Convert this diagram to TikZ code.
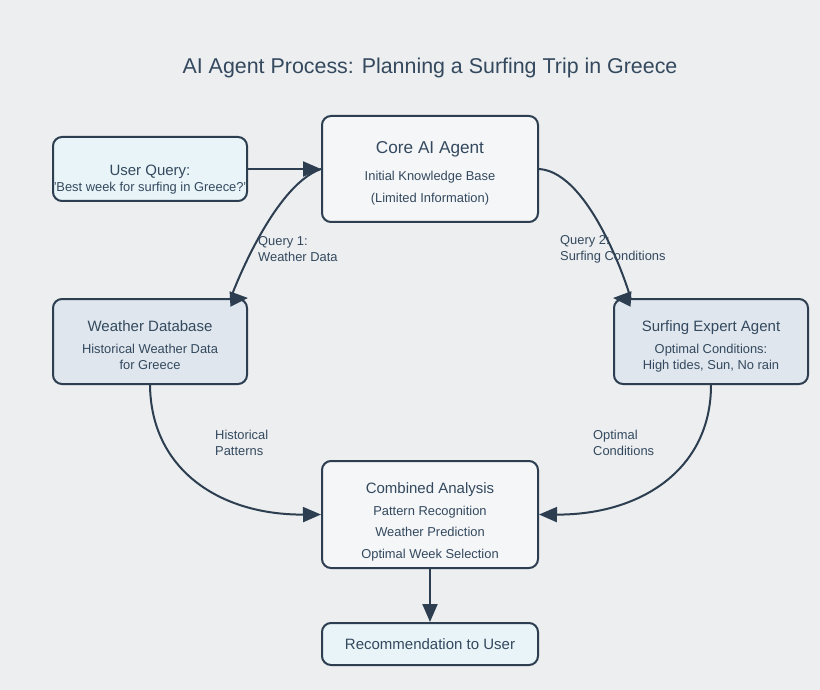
\documentclass[tikz,border=0pt]{standalone}
\usepackage{fontspec}
\setmainfont{Liberation Sans}
\usetikzlibrary{arrows.meta}
\definecolor{bg}{HTML}{ECEEF0}
\definecolor{stroke}{HTML}{2C3E50}
\definecolor{txt}{HTML}{34495E}
\definecolor{fillblue}{HTML}{E8F4F8}
\definecolor{filllight}{HTML}{F4F6F8}
\definecolor{fillgrey}{HTML}{DFE6ED}
\begin{document}
\begin{tikzpicture}[x=1pt,y=-1pt,
  box/.style={draw=stroke,line width=2pt,rounded corners=9pt,inner sep=0pt},
  wide/.style={minimum width=216pt},
  narrow/.style={minimum width=194pt},
  tsmall/.style={font=\fontsize{12.9}{16}\selectfont,text=txt,inner sep=0pt,text height=9.5pt,text depth=2.7pt,yshift=-2pt},
  tmid/.style={font=\fontsize{15}{16}\selectfont,text=txt,inner sep=0pt,text height=11pt,text depth=3.1pt,yshift=-2pt},
  tbig/.style={font=\fontsize{17.2}{18}\selectfont,text=txt,inner sep=0pt,text height=12.6pt,text depth=3.6pt,yshift=-2pt},
  lbl/.style={font=\fontsize{12.9}{16}\selectfont,text=txt,inner sep=0pt,align=left,anchor=west},
  conn/.style={draw=stroke,line width=2pt,-{Triangle[length=18pt,width=15pt]}},
]
\fill[bg] (0,0) rectangle (820,690);
\useasboundingbox (0,0) rectangle (820,690);

\node[font=\fontsize{21.4}{24}\selectfont,text=txt,inner sep=0pt] (title) at (430,68) {AI Agent Process: Planning a Surfing Trip in Greece};

% boxes
\node[box,narrow,fill=fillblue,minimum height=64pt] (user) at (150,169) {};
\node[box,wide,fill=filllight,minimum height=106pt] (core) at (430,169) {};
\node[box,narrow,fill=fillgrey,minimum height=85pt] (weather) at (150,341.5) {};
\node[box,narrow,fill=fillgrey,minimum height=85pt] (surf) at (711,341.5) {};
\node[box,wide,fill=filllight,minimum height=107pt] (comb) at (430,514.5) {};
\node[box,wide,fill=fillblue,minimum height=42pt] (rec) at (430,644) {};

% texts
\node[tmid] (userT1) at (150,170) {User Query:};
\node[tsmall] (userT2) at (150,186) {\char"22 Best week for surfing in Greece?\char"22};
\node[tbig] (coreT1) at (430,147) {Core AI Agent};
\node[tsmall] (coreT2) at (430,175) {Initial Knowledge Base};
\node[tsmall] (coreT3) at (430,197) {(Limited Information)};
\node[tmid] (weaT1) at (150,326) {Weather Database};
\node[tsmall] (weaT2) at (150,348) {Historical Weather Data};
\node[tsmall] (weaT3) at (150,364) {for Greece};
\node[tmid] (surfT1) at (711,326) {Surfing Expert Agent};
\node[tsmall] (surfT2) at (711,348) {Optimal Conditions:};
\node[tsmall] (surfT3) at (711,364) {High tides, Sun, No rain};
\node[tmid] (combT1) at (430,488) {Combined Analysis};
\node[tsmall] (combT2) at (430,510) {Pattern Recognition};
\node[tsmall] (combT3) at (430,531) {Weather Prediction};
\node[tsmall] (combT4) at (430,553) {Optimal Week Selection};
\node[tmid] (recT) at (430,644) {Recommendation to User};

% connectors
\draw[conn] (user.east) -- (core.west);
\draw[conn] (core.west) .. controls (272,186) and (230,299) .. (weather.north east);
\draw[conn] (core.east) .. controls (592,172) and (632,299) .. (surf.north west);
\draw[conn] (weather.south) .. controls (151,470) and (220,515) .. (comb.west);
\draw[conn] (surf.south) .. controls (711,470) and (640,515) .. (comb.east);
\draw[conn] (comb.south) -- (rec.north);

% edge labels
\node[lbl] (q1) at (258,249) {Query 1:\\Weather Data};
\node[lbl] (q2) at (560,249) {Query 2:\\Surfing Conditions};
\node[lbl] (hp) at (215,443) {Historical\\Patterns};
\node[lbl] (oc) at (593,443) {Optimal\\Conditions};
\end{tikzpicture}
\end{document}
